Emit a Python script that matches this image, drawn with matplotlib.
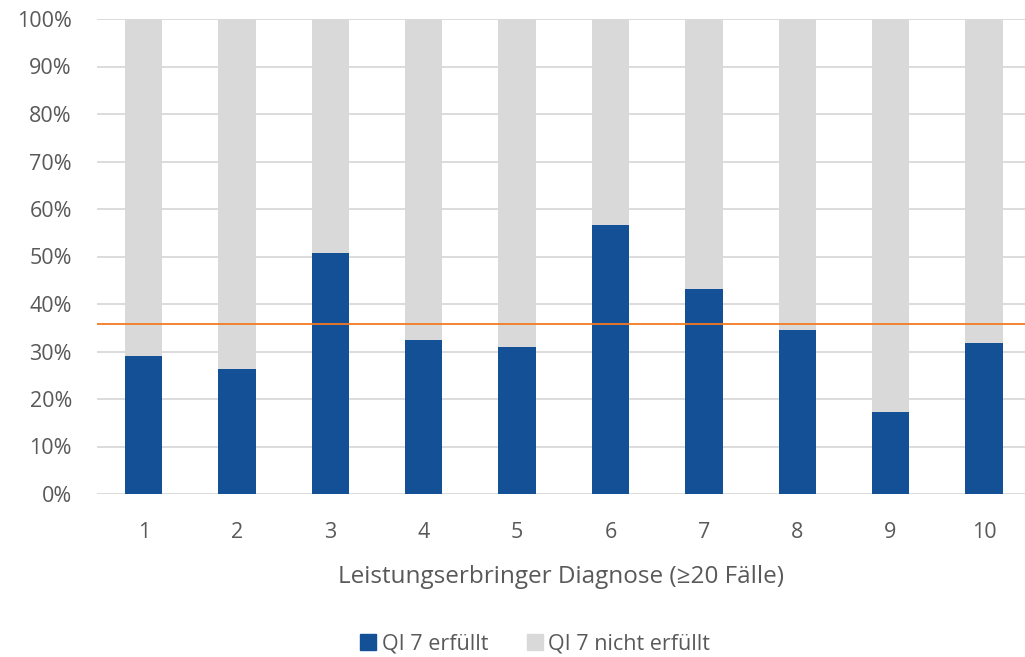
import matplotlib
matplotlib.use('Agg')
import matplotlib.pyplot as plt
from matplotlib.patches import Patch
import numpy as np

categories = ['1', '2', '3', '4', '5', '6', '7', '8', '9', '10']
erfuellt = [29.1, 26.4, 50.8, 32.5, 31.0, 56.6, 43.2, 34.5, 17.3, 31.7]
nicht_erfuellt = [100 - v for v in erfuellt]
referenz = 35.7

BLUE = '#145096'
GRAY = '#D9D9D9'
ORANGE = '#F47A20'
TXT = '#595959'

plt.rcParams['font.family'] = ['Open Sans', 'DejaVu Sans']

fig = plt.figure(figsize=(10.25, 6.57), dpi=100)
ax = fig.add_axes([97 / 1025, 1 - 494 / 657, (1025 - 97) / 1025, 475 / 657])

x = np.arange(1, len(categories) + 1)
ax.bar(x, erfuellt, width=0.4, color=BLUE, zorder=2)
ax.bar(x, nicht_erfuellt, width=0.4, bottom=erfuellt, color=GRAY, zorder=2)
ax.axhline(referenz, color=ORANGE, linewidth=1.3, zorder=3)

ax.set_xlim(0.5, 10.44)
ax.set_ylim(0, 100)
ax.set_yticks(np.arange(0, 101, 10))
ax.set_yticklabels([f'{v}%' for v in range(0, 101, 10)])
ax.set_xticks(x)
ax.set_xticklabels(categories)
ax.yaxis.grid(True, color='#D9D9D9', linewidth=1.3, zorder=0)
ax.set_axisbelow(True)
for s in ax.spines.values():
    s.set_visible(False)
ax.tick_params(axis='both', length=0, labelsize=15.5, colors=TXT)
ax.tick_params(axis='x', pad=20)
ax.tick_params(axis='y', pad=18)

ax.set_xlabel('Leistungserbringer Diagnose (≥20 Fälle)', fontsize=17.5,
              color=TXT, labelpad=16)

handles = [Patch(color=BLUE, label='QI 7 erfüllt'),
           Patch(color=GRAY, label='QI 7 nicht erfüllt')]
fig.legend(handles=handles, loc='center', bbox_to_anchor=(0.522, 1 - 644 / 657),
           ncol=2, frameon=False, fontsize=15.5, labelcolor=TXT,
           handlelength=0.75, handleheight=0.75, handletextpad=0.25,
           columnspacing=1.8)

fig.savefig('out.png', dpi=100)
